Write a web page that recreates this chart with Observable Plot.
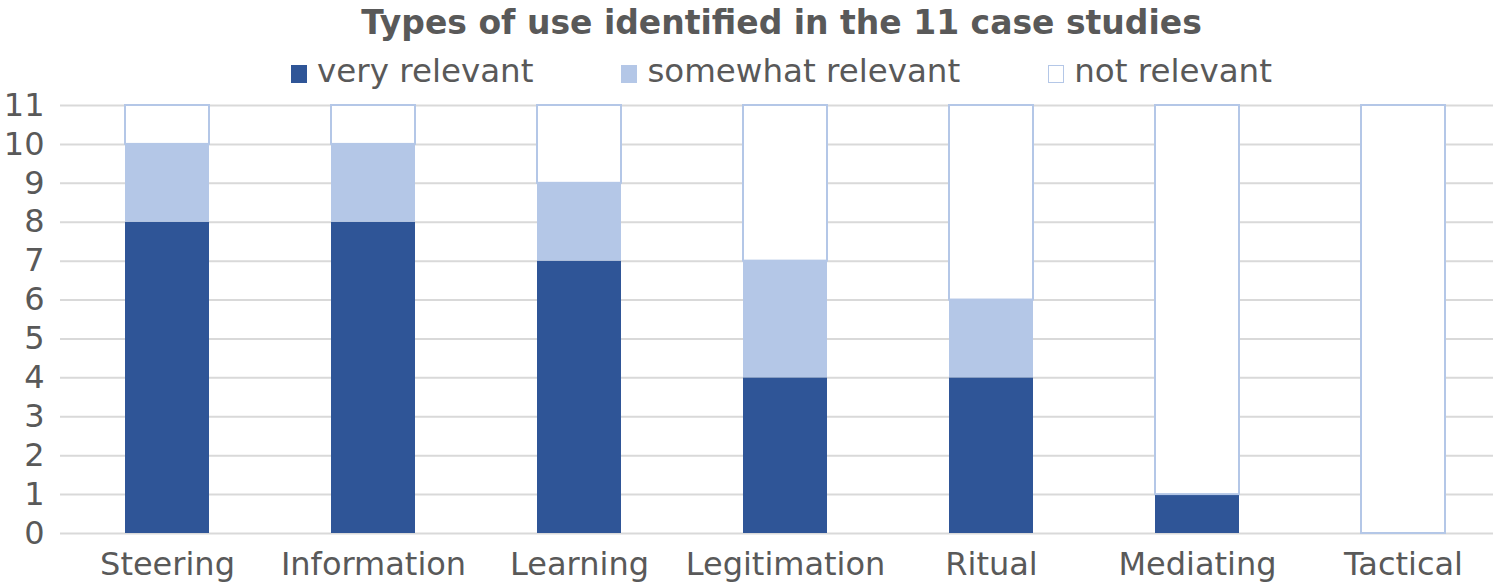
<!DOCTYPE html>
<html>
<head>
<meta charset="utf-8">
<script src="https://cdn.jsdelivr.net/npm/d3@7"></script>
<script src="https://cdn.jsdelivr.net/npm/@observablehq/plot@0.6"></script>
<style>
  html, body { margin: 0; padding: 0; background: #fff; overflow: hidden; }
  #wrap { width: 1493px; font-family: "DejaVu Sans", Verdana, sans-serif; color: #595959; }
  #title { height: 48px; line-height: 46px; padding-left: 70px; text-align: center; font-weight: bold; font-size: 33px; color: #595959; white-space: nowrap; }
  #legend { height: 47px; line-height: 47px; padding-left: 70px; text-align: center; font-size: 32.5px; white-space: nowrap; position: relative; z-index: 1; }
  .item { display: inline-block; margin: 0 44px; }
  .sw { display: inline-block; width: 16px; height: 18px; margin-right: 10px; vertical-align: -1px; box-sizing: border-box; }
  #chart { margin-top: -20px; }
  svg { display: block; }
</style>
</head>
<body>
<div id="wrap">
  <div id="title">Types of use identified in the 11 case studies</div>
  <div id="legend"></div>
  <div id="chart"></div>
</div>
<script>
const categories = ["Steering", "Information", "Learning", "Legitimation", "Ritual", "Mediating", "Tactical"];
const seriesNames = ["very relevant", "somewhat relevant", "not relevant"];
const veryRelevant = [8, 8, 7, 4, 4, 1, 0];
const somewhatRelevant = [2, 2, 2, 3, 2, 0, 0];
const notRelevant = [1, 1, 2, 4, 5, 10, 11];
const yTicks = [0, 1, 2, 3, 4, 5, 6, 7, 8, 9, 10, 11];

const colors = ["#2F5597", "#B4C7E7", "#FFFFFF"];
const seriesValues = [veryRelevant, somewhatRelevant, notRelevant];

// build stacked rows
const rows = [];
categories.forEach((c, i) => {
  let base = 0;
  seriesNames.forEach((s, k) => {
    const v = seriesValues[k][i];
    rows.push({category: c, series: s, value: v, y1: base, y2: base + v});
    base += v;
  });
});

// legend
const legend = document.getElementById("legend");
seriesNames.forEach((s, k) => {
  const it = document.createElement("span");
  it.className = "item";
  const sw = document.createElement("span");
  sw.className = "sw";
  sw.style.background = colors[k];
  if (k === 2) sw.style.border = "1.5px solid #B4C7E7";
  it.appendChild(sw);
  it.appendChild(document.createTextNode(s));
  legend.appendChild(it);
});

const chart = Plot.plot({
  width: 1493,
  height: 509,
  marginLeft: 60,
  marginRight: 0,
  marginTop: 30,
  marginBottom: 51,
  style: {fontFamily: "DejaVu Sans, Verdana, sans-serif", fontSize: "32px", color: "#595959", background: "transparent"},
  x: {domain: categories, range: [61.7, 1507.8], paddingInner: 0.593, paddingOuter: 0.2965, label: null},
  y: {domain: [0, 11], label: null},
  color: {domain: seriesNames, range: colors},
  marks: [
    Plot.gridY(yTicks, {stroke: "#D9D9D9", strokeOpacity: 1, strokeWidth: 2}),
    Plot.barY(rows.filter(d => d.series !== "not relevant"), {x: "category", y1: "y1", y2: "y2", fill: "series"}),
    Plot.barY(rows.filter(d => d.series === "not relevant" && d.value > 0), {x: "category", y1: "y1", y2: "y2", fill: "#FFFFFF", stroke: "#B4C7E7", strokeWidth: 2}),
    Plot.axisY(yTicks, {tickSize: 0, tickPadding: 16, label: null, fontSize: 32}),
    Plot.axisX({tickSize: 0, tickPadding: 19, label: null, fontSize: 32})
  ]
});
document.getElementById("chart").appendChild(chart);
</script>
</body>
</html>
